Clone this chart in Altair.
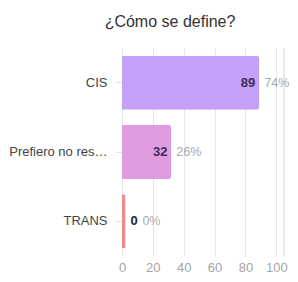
import altair as alt
import pandas as pd

categories = ["CIS", "Prefiero no res…", "TRANS"]
counts = [89, 32, 0]
percents = ["74%", "26%", "0%"]
colors = ["#c4a0f9", "#df9ce0", "#f08a8a"]
x_ticks = [0, 20, 40, 60, 80, 100]
x_edge = 105

df = pd.DataFrame({"cat": categories, "n": counts, "pct": percents, "col": colors})

FONT = "Liberation Sans"

base = alt.Chart(df).transform_calculate(
    shown="max(datum.n, 2.2)"
)

y_enc = alt.Y("cat:N", sort=categories, title=None,
              scale=alt.Scale(paddingInner=0.22, paddingOuter=0.11),
              axis=alt.Axis(labelFont=FONT, labelFontSize=13, labelColor="#444444",
                            labelPadding=8, tickSize=7, tickColor="#e3e3e3",
                            domain=False, grid=False))

x_axis = alt.Axis(values=x_ticks, tickCount=6, labelFont=FONT, labelFontSize=13,
                  labelColor="#a5a5a5", labelPadding=5, ticks=False,
                  domain=False, labelOverlap=False, labelSeparation=0,
                  gridColor="#e6e6e6", labelFlush=False)
x_scale = alt.Scale(domain=[0, x_edge], nice=False, zero=True)
x_enc = alt.X("shown:Q", title=None, scale=x_scale, axis=x_axis)

edge = alt.Chart(df).mark_rule(color="#e6e6e6", strokeWidth=1).encode(
    x=alt.datum(x_edge, scale=x_scale, axis=x_axis, title=None)
)

bars = base.mark_bar(cornerRadiusTopRight=3, cornerRadiusBottomRight=3).encode(
    x=x_enc,
    y=y_enc,
    color=alt.Color("col:N", scale=None),
)

inside = base.transform_filter("datum.n > 0").mark_text(
    align="right", dx=-4, font=FONT, fontSize=13, fontWeight="bold", color="#3f2c55"
).encode(x=x_enc, y=y_enc, text="n:Q")

outside_n = base.transform_filter("datum.n == 0").mark_text(
    align="left", dx=5, font=FONT, fontSize=13, fontWeight="bold", color="#222222"
).encode(x=x_enc, y=y_enc, text="n:Q")

pct_nz = base.transform_filter("datum.n > 0").mark_text(
    align="left", dx=5, font=FONT, fontSize=12.5, color="#aaaaaa"
).encode(x=x_enc, y=y_enc, text="pct:N")

pct_z = base.transform_filter("datum.n == 0").mark_text(
    align="left", dx=17, font=FONT, fontSize=12.5, color="#aaaaaa"
).encode(x=x_enc, y=y_enc, text="pct:N")

chart = alt.layer(bars, edge, inside, outside_n, pct_nz, pct_z).properties(
    width=162, height=208,
    autosize=alt.AutoSizeParams(type="none"),
    padding={"left": 114, "top": 40, "right": 6, "bottom": 18},
    title=alt.Title("¿Cómo se define?", font=FONT, fontSize=16, fontWeight="normal",
                    color="#333333", anchor="middle", frame="group", dx=-33, offset=18),
).configure_view(stroke=None)

chart.save("out.html", embed_options={"renderer": "svg", "actions": False})
